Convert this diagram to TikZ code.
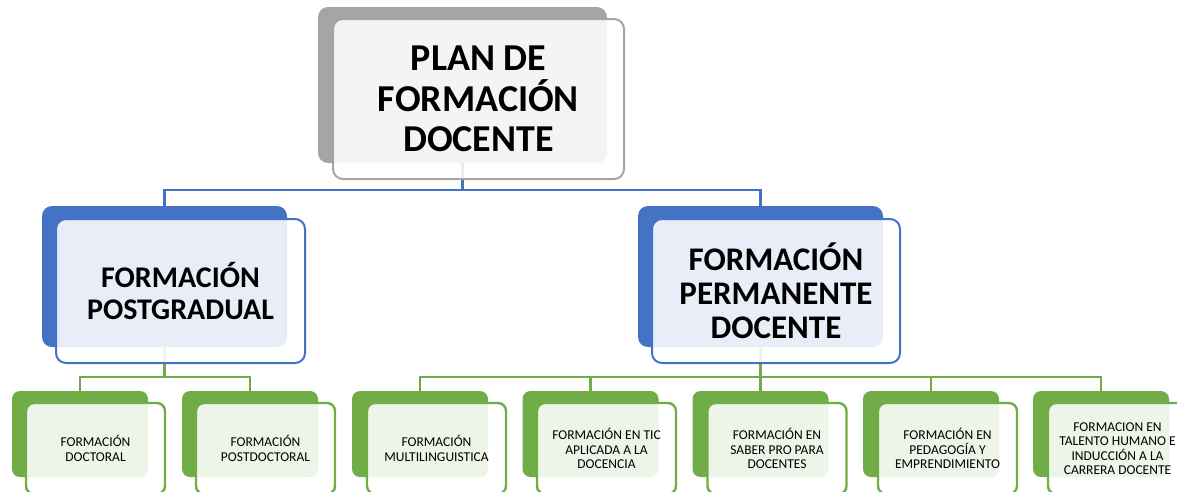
\documentclass[tikz,border=0pt]{standalone}
\usepackage{fontspec}
\setmainfont{Carlito}
\definecolor{cgray}{HTML}{A5A5A5}
\definecolor{cblue}{HTML}{4472C4}
\definecolor{cgreen}{HTML}{70AD47}
\begin{document}
\begin{tikzpicture}[x=1pt,y=-1pt,
  backbox/.style={rectangle, rounded corners=10pt, inner sep=0pt, fill=#1, draw=none},
  frontbox/.style={rectangle, rounded corners=10pt, inner sep=0pt, draw=#1, line width=2pt,
     fill=white, fill opacity=0.88, text opacity=1, draw opacity=1, align=center},
  smallback/.style={backbox=cgreen, rounded corners=8pt, minimum width=136pt, minimum height=86pt},
  smallfront/.style={frontbox=cgreen, rounded corners=8pt, line width=2.4pt, minimum width=139pt, minimum height=91pt,
     font=\fontsize{13.5}{14.4}\selectfont},
  blueline/.style={draw=cblue, line width=2.2pt},
  greenline/.style={draw=cgreen, line width=2.8pt}]
\useasboundingbox (0,0) rectangle (1177,491);
\clip (0,0) rectangle (1177,491);
% back boxes
\node[backbox=cgray, minimum width=289pt, minimum height=156pt] (tb) at (462.5,85) {};
\node[backbox=cblue, minimum width=245pt, minimum height=141pt] (lb) at (164.5,276.5) {};
\node[backbox=cblue, minimum width=245pt, minimum height=141pt] (rb) at (760.5,276.5) {};
\node[smallback] (b1) at (80,434) {};
\node[smallback] (b2) at (250,434) {};
\node[smallback] (b3) at (420,434) {};
\node[smallback] (b4) at (590.5,434) {};
\node[smallback] (b5) at (760.5,434) {};
\node[smallback] (b6) at (931,434) {};
\node[smallback] (b7) at (1101,434) {};
% connectors
\coordinate (j1) at (462.5,190);
\draw[blueline] (tb.south) -- (j1) -| (lb.north);
\draw[blueline] (j1) -| (rb.north);
\coordinate (j2) at (164.5,377);
\draw[greenline] (lb.south) -- (j2) -| (b1.north);
\draw[greenline] (j2) -| (b2.north);
\coordinate (j3) at (760.5,377);
\draw[greenline] (rb.south) -- (j3) -| (b3.north);
\draw[greenline] (j3) -| (b7.north);
\draw[greenline] (j3) -| (b4.north);
\draw[greenline] (j3) -| (b5.north);
\draw[greenline] (j3) -| (b6.north);
% front boxes
\node[frontbox=cgray, minimum width=291pt, minimum height=160pt,
  font=\fontsize{38}{40.5}\selectfont\bfseries] (tf) at (478.5,99) {PLAN DE\\FORMACIÓN\\DOCENTE};
\node[frontbox=cblue, minimum width=249pt, minimum height=144pt,
  font=\fontsize{30}{32}\selectfont\bfseries] (lf) at (180.5,291) {FORMACIÓN\\POSTGRADUAL};
\node[frontbox=cblue, minimum width=248pt, minimum height=144pt,
  font=\fontsize{33}{34}\selectfont\bfseries] (rf) at (776,291) {FORMACIÓN\\PERMANENTE\\DOCENTE};
\node[smallfront] (f1) at (95.5,448.5) {FORMACIÓN\\DOCTORAL};
\node[smallfront] (f2) at (265.5,448.5) {FORMACIÓN\\POSTDOCTORAL};
\node[smallfront] (f3) at (436.5,448.5) {FORMACIÓN\\MULTILINGUISTICA};
\node[smallfront] (f4) at (606.5,448.5) {FORMACIÓN EN TIC\\APLICADA A LA\\DOCENCIA};
\node[smallfront] (f5) at (777,448.5) {FORMACIÓN EN\\SABER PRO PARA\\DOCENTES};
\node[smallfront] (f6) at (947.5,448.5) {FORMACIÓN EN\\PEDAGOGÍA Y\\EMPRENDIMIENTO};
\node[smallfront] (f7) at (1117.5,448.5) {FORMACION EN\\TALENTO HUMANO E\\INDUCCIÓN A LA\\CARRERA DOCENTE};
\end{tikzpicture}
\end{document}
